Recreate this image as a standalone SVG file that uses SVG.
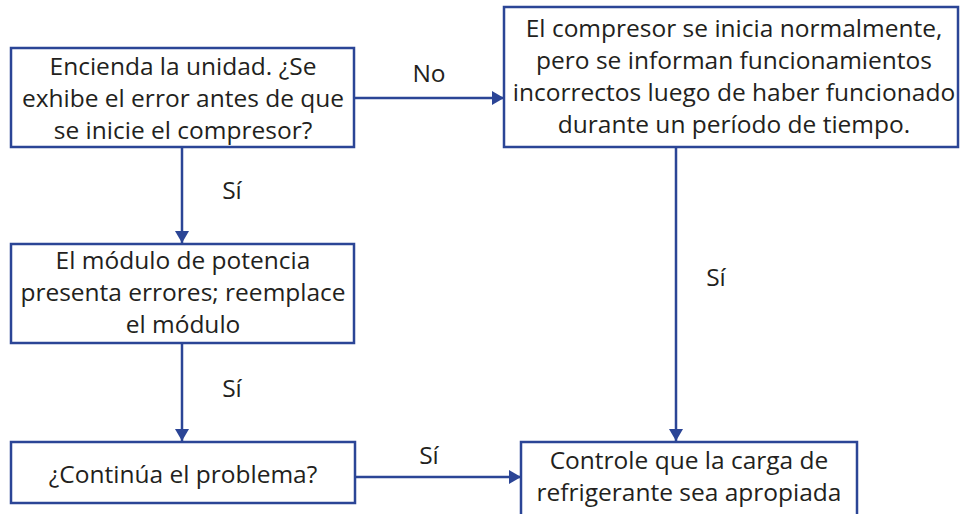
<svg xmlns="http://www.w3.org/2000/svg" width="961" height="514" viewBox="0 0 961 514">
<style>
.box{fill:#fff;stroke:#2b4596;stroke-width:2.5}
.ln{fill:none;stroke:#2b4596;stroke-width:2.5}
text{font-family:"Open Sans","Noto Sans",sans-serif;font-size:24.5px;fill:#231f20;text-anchor:middle;font-variant-ligatures:none}
</style>
<defs>
<marker id="ah" viewBox="0 0 12 14" refX="12" refY="7" markerWidth="12" markerHeight="14" markerUnits="userSpaceOnUse" orient="auto">
<path d="M0,0 L12,7 L0,14 Z" fill="#2b4596"/>
</marker>
</defs>
<rect width="961" height="514" fill="#fff"/>
<g id="connectors">
<line class="ln" x1="355" y1="98" x2="504" y2="98" marker-end="url(#ah)"/>
<line class="ln" x1="182" y1="148" x2="182" y2="243" marker-end="url(#ah)"/>
<line class="ln" x1="182" y1="343" x2="182" y2="441" marker-end="url(#ah)"/>
<line class="ln" x1="676" y1="147" x2="676" y2="441" marker-end="url(#ah)"/>
<line class="ln" x1="355" y1="477" x2="521" y2="477" marker-end="url(#ah)"/>
<text x="429" y="82">No</text>
<text x="232" y="199">Sí</text>
<text x="232" y="397">Sí</text>
<text x="716" y="286">Sí</text>
<text x="429" y="464">Sí</text>
</g>
<g id="n1">
<rect class="box" x="11" y="48" width="343" height="99"/>
<text x="183" y="75">Encienda la unidad. ¿Se</text>
<text x="183" y="107">exhibe el error antes de que</text>
<text x="183" y="139">se inicie el compresor?</text>
</g>
<g id="n2">
<rect class="box" x="504" y="7" width="454" height="140"/>
<text x="734" y="37">El compresor se inicia normalmente,</text>
<text x="734" y="69">pero se informan funcionamientos</text>
<text x="734" y="101">incorrectos luego de haber funcionado</text>
<text x="734" y="133">durante un período de tiempo.</text>
</g>
<g id="n3">
<rect class="box" x="11" y="244" width="343" height="99"/>
<text x="183" y="269">El módulo de potencia</text>
<text x="183" y="301">presenta errores; reemplace</text>
<text x="183" y="333">el módulo</text>
</g>
<g id="n4">
<rect class="box" x="11" y="442" width="344" height="61"/>
<text x="183" y="483">¿Continúa el problema?</text>
</g>
<g id="n5">
<rect class="box" x="521" y="442" width="336" height="80"/>
<text x="689" y="469">Controle que la carga de</text>
<text x="689" y="501">refrigerante sea apropiada</text>
</g>
</svg>
